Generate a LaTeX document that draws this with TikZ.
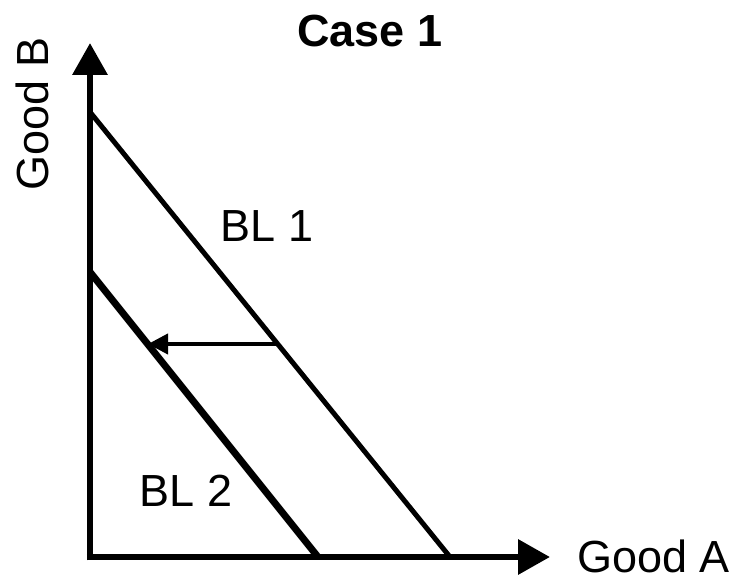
\documentclass[tikz,border=0pt]{standalone}
\usepackage{fontspec}
\setmainfont{Liberation Sans}
\usetikzlibrary{arrows.meta}

\tikzset{
	axis/.style={line width=6.5pt, -{Triangle[length=32pt,width=34pt]}},
	budget/.style={line width=5pt},
	budgetnew/.style={line width=7pt},
	shift arrow/.style={line width=4pt, -{Triangle[length=20pt,width=20pt]}},
	label/.style={inner sep=0pt, font=\fontsize{45}{54}\selectfont},
}

\begin{document}
\begin{tikzpicture}[x=1pt,y=1pt,yscale=-1,xscale=1]
	\useasboundingbox (0,0) rectangle (737,578);

	% Coordinates
	\coordinate (origin) at (90,557);
	\coordinate (ytop) at (90,43);
	\coordinate (xend) at (550,557);
	\coordinate (bl1b) at (90,112);
	\coordinate (bl1a) at (450,557);
	\coordinate (bl2b) at (90,272);
	\coordinate (bl2a) at (318,557);
	\coordinate (shiftfrom) at (277.7,344);
	\coordinate (shiftto) at (148,344);

	% Budget lines
	\draw [budget]    (bl1b) -- (bl1a) ;
	\draw [budgetnew]    (bl2b) -- (bl2a) ;
	% Axes
	\draw [axis]    ([yshift=3.25pt]origin) -- (ytop) ;
	\draw [axis]    ([xshift=-3.25pt]origin) -- (xend) ;
	% Connection
	\draw [shift arrow]    (shiftfrom) -- (shiftto) ;

	% Text Node
	\node [label, font=\fontsize{45}{54}\selectfont\bfseries] (title) at (370,31) {Case 1};
	% Text Node
	\node [label, rotate=90] (goodb) at (32,114) {Good B};
	% Text Node
	\node [label, anchor=base west] (gooda) at (577,572) {Good A};
	% Text Node
	\node [label] (bl1) at (267,226) {BL 1};
	% Text Node
	\node [label] (bl2) at (186,491) {BL 2};

\end{tikzpicture}
\end{document}
